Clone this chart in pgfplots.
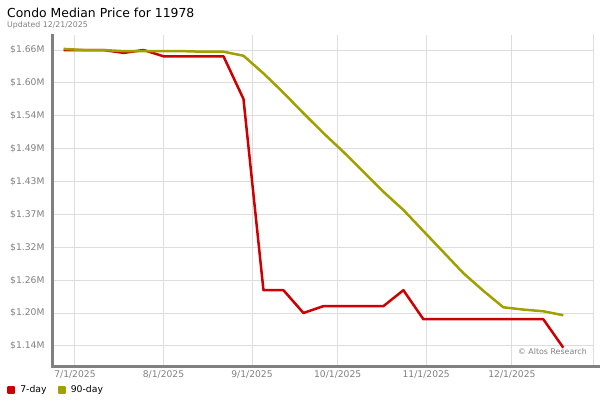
\documentclass[border=0pt]{standalone}
\usepackage{fontspec}
\setmainfont{DejaVu Sans}
\usepackage{pgfplots}
\pgfplotsset{compat=1.18}
\definecolor{sevenday}{RGB}{204,0,0}
\definecolor{ninetyday}{RGB}{160,160,0}
\definecolor{gridgray}{RGB}{221,221,221}
\definecolor{labelgray}{RGB}{128,128,128}
\definecolor{axisgray}{RGB}{128,128,128}

\begin{document}
\begin{tikzpicture}[x=1pt,y=1pt]
\path[use as bounding box] (0,0) rectangle (600,400);
\begin{axis}[
    at={(52pt,35pt)}, anchor=south west,
    width=541pt, height=330pt, scale only axis,
    xmin=-8.05, xmax=181.4,
    ymin=1.1066, ymax=1.6864,
    xtick={0,31,62,92,123,153},
    xticklabels={7/1/2025,8/1/2025,9/1/2025,10/1/2025,11/1/2025,12/1/2025},
    ytick={1.14,1.19778,1.25556,1.31333,1.37111,1.42889,1.48667,1.54444,1.60222,1.66},
    yticklabels={\$1.14M,\$1.20M,\$1.26M,\$1.32M,\$1.37M,\$1.43M,\$1.49M,\$1.54M,\$1.60M,\$1.66M},
    /pgf/number format/assume math mode=true,
    tick label style={font=\fontsize{9.2}{11}\selectfont, text=labelgray},
    xticklabel style={yshift=-2.5pt},
    yticklabel style={xshift=-4pt},
    major tick length=0pt,
    grid=major,
    major grid style={gridgray, line width=1pt},
    axis line style={draw=none},
    clip=false,
    legend columns=2,
    legend style={draw=none, fill=none, at={(-0.0832,-0.0758)}, anchor=west,
        font=\fontsize{9.3}{11}\selectfont, inner sep=0pt, column sep=3pt,
        /tikz/every even column/.append style={column sep=9pt}},
    legend image code/.code={\fill (0pt,-2.8pt) rectangle (5.6pt,2.8pt);},
]
\addplot[sevenday, line width=2.5pt, line join=round] coordinates {
    (-4,1.660) (3,1.660) (10,1.660) (17,1.655) (24,1.660) (31,1.649)
    (38,1.649) (45,1.649) (52,1.649) (59,1.574) (66,1.238) (73,1.238)
    (80,1.198) (87,1.210) (94,1.210) (101,1.210) (108,1.210) (115,1.238)
    (122,1.187) (129,1.187) (136,1.187) (143,1.187) (150,1.187) (157,1.187)
    (164,1.187) (171,1.137)
};
\addplot[ninetyday, line width=2.5pt, line join=round] coordinates {
    (-4,1.662) (3,1.660) (10,1.660) (17,1.658) (24,1.658) (31,1.658)
    (38,1.658) (45,1.657) (52,1.657) (59,1.650) (66,1.619) (73,1.585)
    (80,1.549) (87,1.514) (94,1.481) (101,1.446) (108,1.411) (115,1.379)
    (122,1.342) (129,1.305) (136,1.268) (143,1.237) (150,1.208) (157,1.204)
    (164,1.201) (171,1.194)
};
\legend{7-day, 90-day}
\end{axis}
% right border and axis lines
\draw[gridgray, line width=1pt] (593,35) -- (593,366);
\draw[axisgray, line width=3pt] (52,366) -- (52,34) -- (600,34);
% titles
\node[anchor=base west, inner sep=0pt, font=\fontsize{12.4}{14}\selectfont] at (7,382) {Condo Median Price for 11978};
\node[anchor=base west, inner sep=0pt, font=\fontsize{7.8}{9}\selectfont, text=labelgray] at (7,372.5) {Updated 12/21/2025};
\node[anchor=base east, inner sep=0pt, font=\fontsize{7.9}{9}\selectfont, text=labelgray] at (587,46) {© Altos Research};
\end{tikzpicture}
\end{document}
